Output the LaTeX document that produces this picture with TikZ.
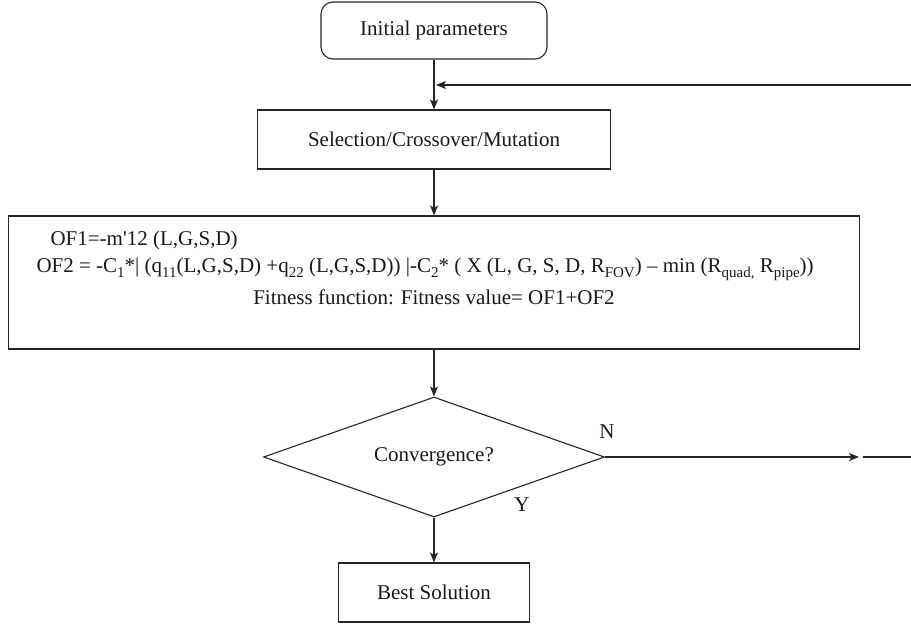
\documentclass[tikz,border=0pt]{standalone}
\usepackage{fontspec}
\setmainfont{Liberation Serif}
\usetikzlibrary{arrows.meta,shapes.geometric}
\newcommand{\lowsub}[1]{\raisebox{-5pt}{\fontsize{15}{15}\selectfont #1}}
\begin{document}
\begin{tikzpicture}[x=1pt,y=-1pt,
  line width=1.1pt,
  every node/.style={font=\fontsize{21}{25}\selectfont, text=black!90},
  box/.style={draw=black!85, rectangle, inner sep=0pt},
  arr/.style={draw=black!85, -{Stealth[length=10pt,width=8pt,inset=2.5pt]}},
  plain/.style={draw=black!85}
]
\useasboundingbox (0,0) rectangle (911,627);
\node[box, rounded corners=12pt, minimum width=226pt, minimum height=57pt] (init) at (434,30.5) {Initial parameters};
\node[box, minimum width=353pt, minimum height=59pt] (sel) at (434,139.5) {Selection/Crossover/Mutation};
\node[box, minimum width=851pt, minimum height=133pt] (of) at (434,282.5) {};
\node[anchor=west, inner sep=0pt] (of1) at (50,240) {OF1=-m\textquotesingle 12 (L,G,S,D)};
\node[anchor=west, inner sep=0pt] (of2) at (36,269) {OF2 = -C\lowsub{1}*| (q\lowsub{11}(L,G,S,D) +q\lowsub{22} (L,G,S,D)) |-C\lowsub{2}* ( X (L, G, S, D, R\lowsub{FOV}) – min (R\lowsub{quad,} R\lowsub{pipe}))};
\node[inner sep=0pt] (fit) at (434,297) {Fitness function: Fitness value= OF1+OF2};
\node[diamond, draw=black!85, inner sep=0pt, aspect=2.84, minimum width=341pt, minimum height=120pt] (dec) at (434,457) {Convergence?};
\node[box, minimum width=191pt, minimum height=59pt] (best) at (434,592.5) {Best Solution};
\node (nlab) at (607,432) {N};
\node (ylab) at (522,505) {Y};
\coordinate (fbR) at (911,85);
\coordinate (nEnd) at (859,457);
\coordinate (nA) at (863,457);
\coordinate (nB) at (911,457);
\draw[arr] (init) -- (sel);
\draw[arr, shorten >=2pt] (fbR) -- (fbR -| init.south);
\draw[arr] (sel) -- (of);
\draw[arr] (of) -- (dec);
\draw[arr] (dec) -- (best);
\draw[arr] (dec.east) -- (nEnd);
\draw[plain] (nA) -- (nB);
\end{tikzpicture}
\end{document}
